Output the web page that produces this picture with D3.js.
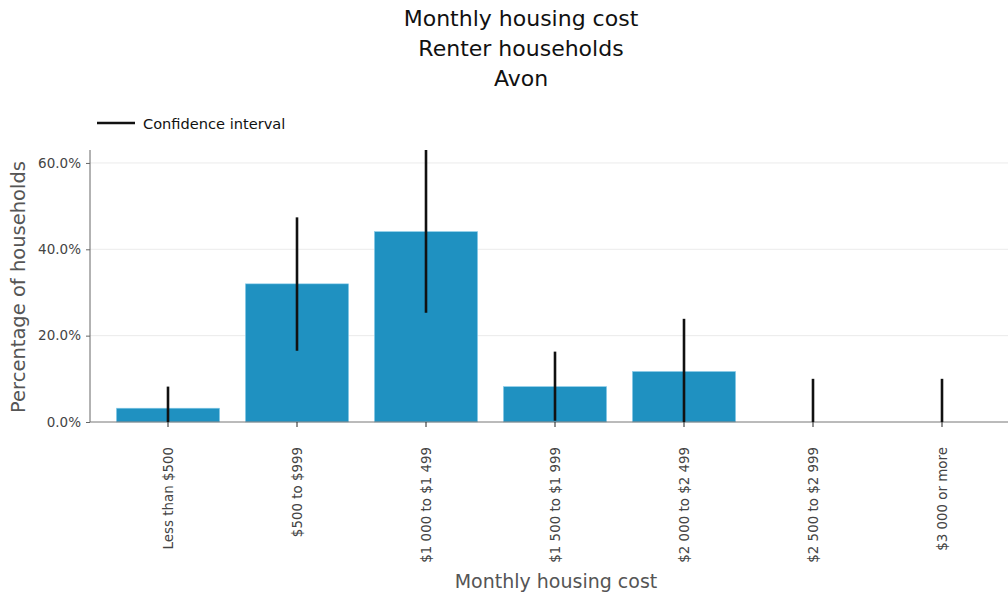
<!DOCTYPE html>
<html><head><meta charset="utf-8">
<script src="https://cdn.jsdelivr.net/npm/d3@7"></script>
<style>body{margin:0;background:#fff}svg{display:block}</style>
</head><body>
<svg id="c" width="1008" height="596"></svg>
<script>
const categories = ["Less than $500","$500 to $999","$1 000 to $1 499","$1 500 to $1 999","$2 000 to $2 499","$2 500 to $2 999","$3 000 or more"];
const values = [3.2, 32.0, 44.1, 8.2, 11.7, 0, 0];
const ciLow = [0, 16.5, 25.3, 0.3, 0, 0, 0];
const ciHigh = [8.2, 47.4, 63.0, 16.3, 23.9, 10.0, 10.0];
const yTicks = [0, 20, 40, 60];
const titleLines = ["Monthly housing cost","Renter households","Avon"];

const svg = d3.select("#c");
const font = "DejaVu Sans, Verdana, sans-serif";
const x = d3.scaleBand().domain(categories).range([103.5, 1006.5]).paddingInner(0.2).paddingOuter(0.1);
const y = d3.scaleLinear().domain([0, 63]).range([422, 150]);

// gridlines
svg.append("g").selectAll("line").data(yTicks.filter(d=>d>0)).join("line")
  .attr("x1", 90).attr("x2", 1008).attr("y1", d=>y(d)).attr("y2", d=>y(d))
  .attr("stroke", "#ebebeb").attr("stroke-width", 1);

// bars
svg.append("g").selectAll("rect").data(categories).join("rect")
  .attr("x", d=>x(d)).attr("width", x.bandwidth())
  .attr("y", (d,i)=>y(values[i])).attr("height", (d,i)=>y(0)-y(values[i]))
  .attr("fill", "#1f91c1").attr("stroke", "#8fd0ec").attr("stroke-width", 0.6)
  .attr("display", (d,i)=>values[i] > 0 ? null : "none");

// y axis
const yAxis = svg.append("g").attr("transform","translate(90,0)")
  .call(d3.axisLeft(y).tickValues(yTicks).tickFormat(d=>d3.format(".1f")(d)+"%").tickSize(4).tickPadding(5));
yAxis.select(".domain").attr("stroke","#666").attr("d","M0,150V422");
yAxis.selectAll(".tick line").attr("stroke","#666");
yAxis.selectAll("text").attr("font-family",font).attr("font-size",13.5).attr("fill","#444");

// x axis
const xAxis = svg.append("g").attr("transform","translate(0,422)")
  .call(d3.axisBottom(x).tickSize(5).tickPadding(6));
xAxis.select(".domain").attr("stroke","#777").attr("d","M90,0H1008");
xAxis.selectAll(".tick line").attr("stroke","#222");
xAxis.selectAll("text").attr("font-family",font).attr("font-size",13.4).attr("fill","#444")
  .attr("transform","rotate(-90)").attr("text-anchor","end").attr("dy","0.35em")
  .attr("x", -25).attr("y", 0);

// error bars
svg.append("g").selectAll("line").data(categories).join("line")
  .attr("x1", d=>x(d)+x.bandwidth()/2).attr("x2", d=>x(d)+x.bandwidth()/2)
  .attr("y1", (d,i)=>y(ciLow[i])).attr("y2", (d,i)=>y(ciHigh[i]))
  .attr("stroke","#111").attr("stroke-width",2.6);

// titles
svg.append("g").selectAll("text").data(titleLines).join("text")
  .attr("x", 521).attr("y", (d,i)=>26+i*30).attr("text-anchor","middle")
  .attr("font-family",font).attr("font-size",22).attr("fill","#111").text(d=>d);

// axis titles
svg.append("text").attr("transform","translate(25,287) rotate(-90)").attr("text-anchor","middle")
  .attr("font-family",font).attr("font-size",19.5).attr("fill","#555").text("Percentage of households");
svg.append("text").attr("x",556).attr("y",588).attr("text-anchor","middle")
  .attr("font-family",font).attr("font-size",19).attr("fill","#555").text("Monthly housing cost");

// legend
svg.append("line").attr("x1",97).attr("x2",135).attr("y1",123).attr("y2",123).attr("stroke","#111").attr("stroke-width",2.6);
svg.append("text").attr("x",143).attr("y",128.5).attr("font-family",font).attr("font-size",14.6).attr("fill","#111").text("Confidence interval");
</script>
</body></html>
